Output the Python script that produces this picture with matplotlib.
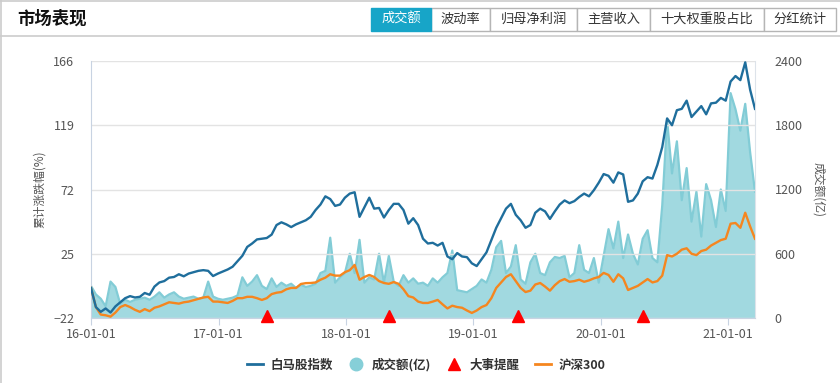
import matplotlib
matplotlib.use("Agg")
import matplotlib.pyplot as plt
import matplotlib.dates as mdates
from matplotlib.lines import Line2D
from matplotlib.patches import Rectangle
import matplotlib.transforms as mtransforms
import pandas as pd

plt.rcParams['font.family'] = ['Noto Sans CJK SC', 'DejaVu Sans']

# ---------------- data ----------------
start_date = "2016-01-01"
step = "14D"

baima = [0, -14, -17.5, -15, -18, -13.5, -10.5, -7.5, -6, -7,
         -6.5, -3.7, -5, 1, 4, 5, 7.5, 8, 10, 8.5,
         10.5, 11.5, 12.5, 13, 12.5, 8.7, 10.5, 12, 13.5, 15.5,
         19.5, 23.5, 30, 32.5, 35.5, 36, 36.5, 39, 46, 48,
         46.5, 44.5, 46.5, 48, 49.5, 52, 57, 61, 67, 65,
         60, 61, 66, 69, 70, 52, 59, 66, 58, 58.5,
         51.5, 57, 61.5, 61.5, 57, 47, 51, 46, 36, 32.5,
         33, 31, 33, 23, 21, 25.5, 23, 22.5, 18, 16,
         21, 26, 35, 44, 51, 58, 61.5, 53.5, 49.5, 44,
         46, 55, 58, 56, 50.5, 56, 61, 64, 62, 63.5,
         66.5, 69, 67, 71.5, 77, 83.3, 82, 77, 84.5, 83,
         63, 64, 69, 78, 81, 80, 90, 103, 124, 119,
         130, 131, 137, 125, 129, 133, 127, 135, 135.5, 139,
         137, 151, 155, 152, 165, 145, 131]

hs300 = [0, -14, -19.5, -20, -21, -18, -14, -12.5, -14, -16,
         -17.5, -15.5, -17, -14.5, -13.5, -12, -10.5, -11, -11.5, -10.5,
         -10, -9, -8, -7, -6.5, -10, -10, -10.5, -11, -9.5,
         -7.5, -7.5, -6.5, -6.5, -7.5, -8.8, -7.5, -4.5, -3.5, -3,
         -1, 0, 0, 2.9, 3.5, 3.6, 4, 6, 7.5, 10,
         9, 9, 11.5, 13, 16.8, 6, 8, 9.5, 8, 5,
         3.6, 3, 4.3, 3, -1, -6, -7, -10, -11, -11,
         -10, -8.8, -12, -15, -13, -14, -14.5, -16.5, -18.3, -16.5,
         -14, -12.5, -7.5, 0, 4, 8, 10, 5, 0, -3,
         -2, 2.5, 3.6, 1, -2, 2, 5, 6.5, 4.5, 5,
         6, 4.5, 5.5, 7, 8, 11, 9.5, 4.5, 10, 7,
         -1.5, 0, 1.5, 4, 6.5, 4, 5, 9, 24, 23,
         25, 28, 29, 25, 24, 27, 28, 31, 33, 35,
         36, 47, 47.5, 44, 55, 45, 36]

volume = [300, 220, 180, 110, 340, 290, 130, 170, 150, 170,
          180, 190, 170, 200, 240, 190, 220, 240, 200, 180,
          190, 200, 180, 190, 340, 200, 180, 170, 180, 190,
          210, 380, 300, 340, 400, 300, 270, 370, 290, 330,
          300, 320, 280, 310, 290, 300, 320, 420, 440, 750,
          330, 380, 420, 600, 420, 730, 330, 380, 360, 600,
          330, 580, 340, 300, 400, 330, 370, 320, 330, 300,
          370, 330, 380, 420, 630, 260, 250, 240, 270, 300,
          360, 330, 450, 660, 720, 420, 480, 680, 360, 320,
          520, 600, 420, 400, 520, 570, 560, 580, 380, 420,
          680, 450, 420, 560, 330, 580, 830, 650, 900, 560,
          780, 600, 500, 740, 820, 560, 520, 1050, 1850, 1350,
          1650, 1100, 1400, 900, 1180, 760, 1250, 1100, 850, 1200,
          1000, 2100, 1950, 1750, 2000, 1550, 1180]

event_dates = ["2017-05-19", "2018-05-04", "2019-05-10", "2020-05-01"]

left_ticks = [-22, 25, 72, 119, 166]
right_ticks = [0, 600, 1200, 1800, 2400]
x_tick_dates = ["2016-01-01", "2017-01-01", "2018-01-01", "2019-01-01", "2020-01-01", "2021-01-01"]

tabs = ["成交额", "波动率", "归母净利润", "主营收入", "十大权重股占比", "分红统计"]
title = "市场表现"
legend_labels = ["白马股指数", "成交额(亿)", "大事提醒", "沪深300"]

# ---------------- style ----------------
C_BLUE = "#1f6e9c"
C_ORANGE = "#f5861f"
C_FILL = "#a1d9e0"
C_FILL_LINE = "#82ccd6"
C_RED = "#ff0000"
C_TICK = "#555555"
C_GRID = "#e3e3e3"
C_SPINE = "#c8d3e2"

W, H = 840, 383
fig = plt.figure(figsize=(W / 100, H / 100), dpi=100)


def fx(x):
    return x / W


def fy(y):
    return 1 - y / H


dates = pd.date_range(start=start_date, periods=len(baima), freq=step)

ax = fig.add_axes([fx(91), fy(318), fx(755) - fx(91), fy(61) - fy(318)])
ax2 = ax.twinx()
ax.set_zorder(ax2.get_zorder() + 1)
ax.patch.set_visible(False)

# volume area
ax2.fill_between(dates, 0, volume, color=C_FILL, linewidth=0, zorder=1)
ax2.plot(dates, volume, color=C_FILL_LINE, linewidth=1.6, zorder=2)
ax2.set_ylim(0, 2400)
ax2.set_yticks(right_ticks)

# lines
ax.plot(dates, baima, color=C_BLUE, linewidth=1.7, zorder=5)
ax.plot(dates, hs300, color=C_ORANGE, linewidth=1.7, zorder=4)
ax.set_ylim(-22, 166)
ax.set_yticks(left_ticks)
ax.set_xlim(dates[0], dates[-1])

# events at bottom
trans = mtransforms.blended_transform_factory(ax.transData, ax.transAxes)
ev = pd.to_datetime(event_dates)
ax.plot(ev, [0.006] * len(ev), linestyle="none", marker="^", markersize=8.5,
        color=C_RED, transform=trans, clip_on=False, zorder=10)

# grid
ax.grid(axis="y", color=C_GRID, linewidth=1)
ax.grid(axis="x", visible=False)
for gl in ax.get_ygridlines():
    gl.set_zorder(0.5)

# x ticks
ax.set_xticks(pd.to_datetime(x_tick_dates))
ax.xaxis.set_major_formatter(mdates.DateFormatter("%y-%m-%d"))

for a in (ax, ax2):
    for s in a.spines.values():
        s.set_visible(False)
ax.spines["left"].set_visible(True)
ax.spines["left"].set_color(C_SPINE)
ax.spines["bottom"].set_visible(True)
ax.spines["bottom"].set_color(C_SPINE)
ax2.spines["right"].set_visible(True)
ax2.spines["right"].set_color("#dde3ea")

ax.tick_params(axis="y", length=0, pad=12, labelsize=9, labelcolor=C_TICK)
ax2.tick_params(axis="y", length=0, pad=14, labelsize=9, labelcolor=C_TICK)
ax.tick_params(axis="x", length=5, color=C_SPINE, pad=2, labelsize=9, labelcolor=C_TICK)

ax.set_ylabel("累计涨跌幅(%)", fontsize=8.5, color=C_TICK, labelpad=5)
ax2.set_ylabel("成交额(亿)", fontsize=8.5, color=C_TICK, rotation=-90, labelpad=16)

# legend
handles = [
    Line2D([], [], color=C_BLUE, linewidth=2),
    Line2D([], [], color="#86cfd8", marker="o", markersize=9, linestyle="none"),
    Line2D([], [], color=C_RED, marker="^", markersize=9, linestyle="none"),
    Line2D([], [], color=C_ORANGE, linewidth=2),
]
fig.legend(handles, legend_labels, loc="center", bbox_to_anchor=(fx(426), fy(365)),
           ncol=4, frameon=False, handlelength=1.3, handletextpad=0.55,
           columnspacing=1.25, prop={"size": 9, "weight": "bold"}, labelcolor="#333333")

# header
fig.text(fx(17), fy(19), title, fontsize=12.5, fontweight="bold", color="#111111",
         ha="left", va="center")
fig.add_artist(Line2D([0, 1], [fy(36), fy(36)], transform=fig.transFigure,
                      color="#cccccc", linewidth=1.2))
fig.add_artist(Line2D([0, 1], [fy(0.5), fy(0.5)], transform=fig.transFigure,
                      color="#cccccc", linewidth=1.2))
fig.add_artist(Line2D([fx(0.5), fx(0.5)], [0, 1], transform=fig.transFigure,
                      color="#cccccc", linewidth=1.2))

tab_edges = [371, 431, 490, 577, 650, 764, 836]
for i, t in enumerate(tabs):
    x0, x1 = tab_edges[i], tab_edges[i + 1]
    sel = i == 0
    fig.add_artist(Rectangle((fx(x0), fy(31)), fx(x1) - fx(x0), fy(8) - fy(31),
                             transform=fig.transFigure,
                             facecolor="#17a5c8" if sel else "white",
                             edgecolor="#17a5c8" if sel else "#b5b5b5",
                             linewidth=1, zorder=3 if sel else 2))
    fig.text(fx((x0 + x1) / 2), fy(19.5), t, fontsize=9.5,
             color="white" if sel else "#333333", ha="center", va="center", zorder=4)

fig.savefig("out.png", dpi=100)
